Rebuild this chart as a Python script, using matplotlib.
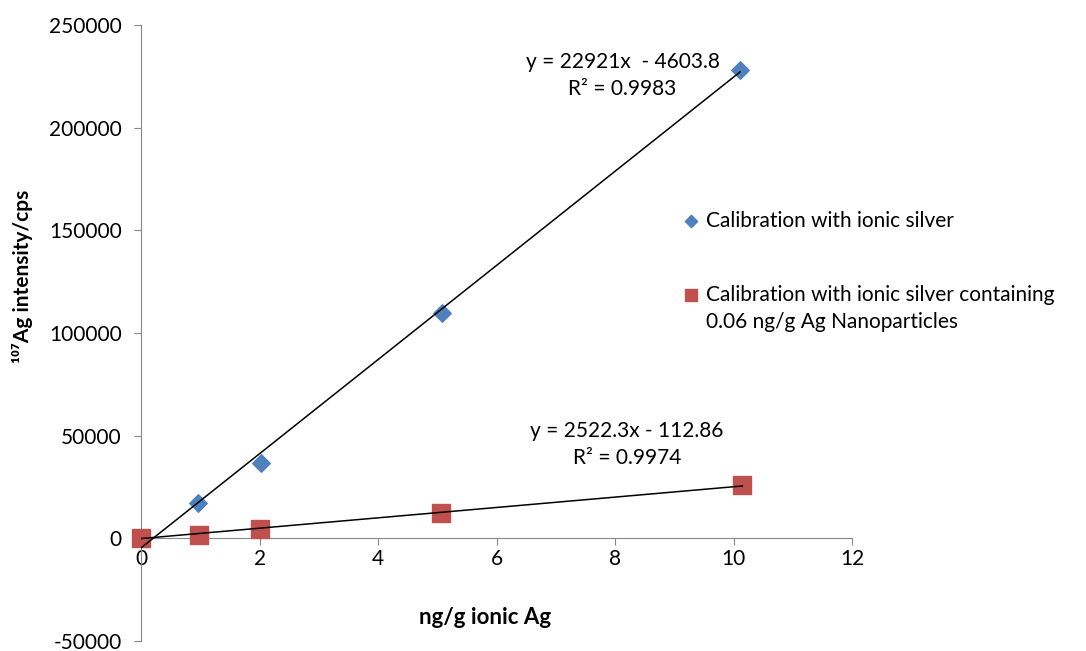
import matplotlib.pyplot as plt
import numpy as np

plt.rcParams['font.family'] = ['Lato', 'DejaVu Sans']
plt.rcParams['axes.unicode_minus'] = False

# data
conc_ionic = [0, 0.96, 2.03, 5.08, 10.11]
int_ionic = [0, 17400, 36800, 109700, 228300]
conc_np = [0, 0.98, 2.0, 5.06, 10.15]
int_np = [0, 1500, 4300, 12400, 26100]

# trendline coefficients (slope, intercept) and R2
fit_ionic = (22921, -4603.8, 0.9983)
fit_np = (2522.3, -112.86, 0.9974)

blue = '#4F81BD'
red = '#C0504D'

fig = plt.figure(figsize=(10.86, 6.51), dpi=100)
ax = fig.add_axes([0.130, 0.0154, 0.6545, 0.9462])

ax.scatter(conc_ionic, int_ionic, marker='D', s=80, color=blue, zorder=3,
           clip_on=False, label='Calibration with ionic silver')
ax.scatter(conc_np, int_np, marker='s', s=170, color=red, zorder=3, clip_on=False,
           label='Calibration with ionic silver containing')

# linear trendlines
for xs, fit in [(conc_ionic, fit_ionic), (conc_np, fit_np)]:
    xx = np.array([0, max(xs)])
    ax.plot(xx, fit[0] * xx + fit[1], color='black', lw=1.1, zorder=4)

ax.text(8.13, 232000, 'y = %dx  - %.1f' % (fit_ionic[0], -fit_ionic[1]),
        ha='center', va='center', fontsize=15)
ax.text(8.12, 219000, 'R² = %.4f' % fit_ionic[2], ha='center', va='center', fontsize=15)
ax.text(8.2, 52500, 'y = %.1fx - %.2f' % (fit_np[0], -fit_np[1]),
        ha='center', va='center', fontsize=15)
ax.text(8.2, 39000, 'R² = %.4f' % fit_np[2], ha='center', va='center', fontsize=15)

ax.set_xlim(0, 12)
ax.set_ylim(-50000, 250000)
ax.set_xticks(range(0, 13, 2))
ax.set_yticks(range(-50000, 250001, 50000))

ax.spines['top'].set_visible(False)
ax.spines['right'].set_visible(False)
ax.spines['bottom'].set_position(('data', 0))
for s in ['left', 'bottom']:
    ax.spines[s].set_color('#888888')
ax.tick_params(axis='both', colors='#888888', labelcolor='black', labelsize=15,
               length=5, direction='out')
ax.tick_params(axis='y', pad=9)
ax.tick_params(axis='x', pad=3)

fig.text(485 / 1086, 1 - 617 / 651, 'ng/g ionic Ag', ha='center', va='center',
         fontsize=16, fontweight='bold')
fig.text(23 / 1086, 1 - 276 / 651, '¹⁰⁷Ag intensity/cps', ha='center', va='center',
         rotation=90, fontsize=15, fontweight='bold')

ax.legend(loc='upper left', bbox_to_anchor=(656 / 1086, 1 - 192 / 651),
          bbox_transform=fig.transFigure, frameon=False, fontsize=15,
          handletextpad=-0.1, labelspacing=2.6, markerscale=0.7,
          handlelength=1.6)
# second line of the second legend label
fig.text(706 / 1086, 1 - 322 / 651, '0.06 ng/g Ag Nanoparticles', ha='left',
         va='center', fontsize=15)

fig.savefig('out.png', dpi=100)
